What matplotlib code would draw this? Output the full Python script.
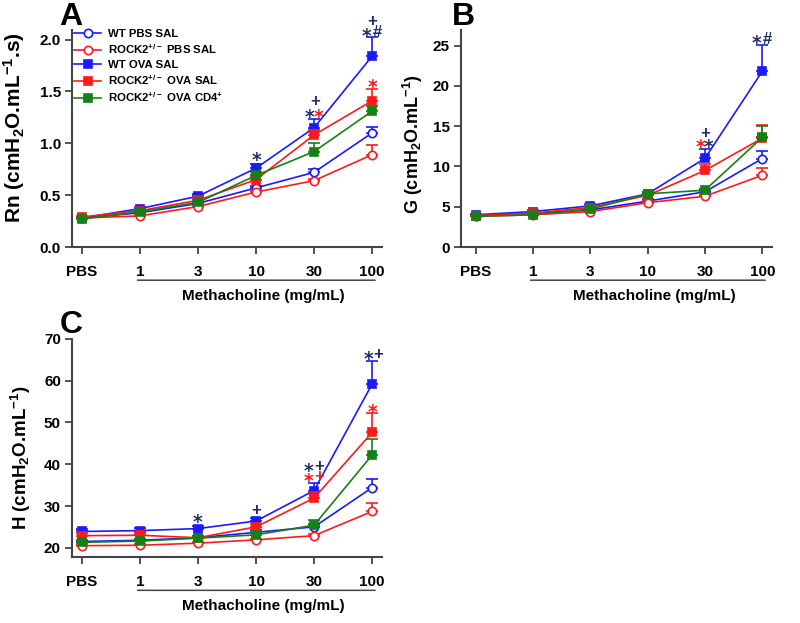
import numpy as np
import matplotlib
matplotlib.use("Agg")
import matplotlib.pyplot as plt
from matplotlib.lines import Line2D

plt.rcParams['font.family'] = ['Liberation Sans', 'DejaVu Sans']
plt.rcParams['font.weight'] = 'bold'
plt.rcParams['mathtext.fontset'] = 'custom'
plt.rcParams['mathtext.rm'] = 'Liberation Sans:bold'
plt.rcParams['mathtext.bf'] = 'Liberation Sans:bold'
plt.rcParams['mathtext.default'] = 'bf'

doses = ['PBS', '1', '3', '10', '30', '100']
groups = ['WT PBS SAL', 'ROCK2$^{+/-}$ PBS SAL', 'WT OVA SAL',
          'ROCK2$^{+/-}$ OVA SAL', 'ROCK2$^{+/-}$ OVA CD4$^{+}$']

# panel A - Rn
rn_wt_pbs = [0.28, 0.33, 0.42, 0.57, 0.72, 1.10]
rn_rock_pbs = [0.28, 0.30, 0.39, 0.53, 0.64, 0.89]
rn_wt_ova = [0.28, 0.37, 0.49, 0.76, 1.15, 1.84]
rn_rock_ova = [0.29, 0.35, 0.45, 0.65, 1.08, 1.41]
rn_rock_cd4 = [0.27, 0.34, 0.43, 0.69, 0.92, 1.31]
rn_err = [[0.01, 0.01, 0.01, 0.02, 0.03, 0.06],
          [0.01, 0.01, 0.01, 0.02, 0.02, 0.09],
          [0.01, 0.02, 0.02, 0.04, 0.08, 0.18],
          [0.01, 0.01, 0.02, 0.03, 0.05, 0.11],
          [0.01, 0.01, 0.02, 0.03, 0.08, 0.05]]

# panel B - G
g_wt_pbs = [3.9, 4.2, 4.6, 5.7, 6.85, 10.97]
g_rock_pbs = [3.8, 4.0, 4.4, 5.5, 6.3, 8.9]
g_wt_ova = [4.0, 4.4, 5.1, 6.6, 11.0, 21.8]
g_rock_ova = [3.9, 4.2, 4.9, 6.4, 9.5, 13.5]
g_rock_cd4 = [3.8, 4.0, 4.7, 6.6, 7.05, 13.6]
g_err = [[0.1, 0.1, 0.1, 0.2, 0.3, 0.9],
         [0.1, 0.1, 0.1, 0.2, 0.2, 0.9],
         [0.1, 0.2, 0.2, 0.2, 1.1, 3.3],
         [0.1, 0.1, 0.2, 0.2, 0.8, 1.6],
         [0.1, 0.1, 0.2, 0.2, 0.2, 1.4]]

# panel C - H
h_wt_pbs = [21.5, 21.8, 22.4, 23.7, 25.0, 34.4]
h_rock_pbs = [20.5, 20.6, 21.1, 21.9, 22.9, 28.7]
h_wt_ova = [23.9, 24.1, 24.6, 26.4, 33.7, 59.2]
h_rock_ova = [22.9, 23.0, 22.4, 25.0, 31.9, 47.6]
h_rock_cd4 = [21.3, 21.6, 22.3, 23.1, 25.4, 42.2]
h_err = [[0.4, 0.4, 0.4, 0.5, 0.7, 2.1],
         [0.3, 0.3, 0.3, 0.3, 0.4, 2.0],
         [0.5, 0.6, 0.6, 0.7, 1.8, 5.6],
         [0.6, 0.6, 0.4, 0.8, 1.5, 4.6],
         [0.6, 0.6, 0.5, 0.6, 1.3, 3.9]]

NAVY = '#1f2f66'
RED = '#ff1a1a'
# significance marks: (dose index, y, text, colour)
rn_marks = [(3, 0.87, '*', NAVY), (3.92, 1.29, '*', NAVY), (4.08, 1.29, '*', RED),
            (4.02, 1.40, '+', NAVY), (4.91, 2.07, '*', NAVY), (5.09, 2.07, '#', NAVY),
            (5.0, 2.17, '+', NAVY), (5, 1.58, '*', RED)]
g_marks = [(3.92, 12.9, '*', RED), (4.07, 12.9, '*', NAVY), (4.0, 14.1, '+', NAVY),
           (4.9, 25.8, '*', NAVY), (5.09, 25.8, '#', NAVY)]
h_marks = [(2, 27.1, '*', NAVY), (3, 28.9, '+', NAVY),
           (3.9, 39.3, '*', NAVY), (4.08, 39.5, '+', NAVY),
           (3.9, 36.9, '*', RED), (4.08, 37.1, '+', RED),
           (4.93, 66.1, '*', NAVY), (5.1, 66.3, '+', NAVY), (5, 53.4, '*', RED)]

styles = [dict(color='#1a1aff', marker='o', mfc='white', ms=6),
          dict(color='#ff1a1a', marker='o', mfc='white', ms=6),
          dict(color='#1a1aff', marker='s', mfc='#1a1aff', ms=5.5),
          dict(color='#ff1a1a', marker='s', mfc='#ff1a1a', ms=5.5),
          dict(color='#168016', marker='s', mfc='#168016', ms=5.5)]

fig = plt.figure(figsize=(8, 6.23), dpi=100)
x = np.arange(len(doses))


def panel(rect, xleft, series, errs, ylim, yticks, ylabel, lab_size, lab_xy,
          letter, letter_xy, marks, legend=False):
    ax = fig.add_axes(rect)
    for i, (vals, err, st) in enumerate(zip(series, errs, styles)):
        z = 2 + i
        ax.errorbar(x, vals, yerr=[np.zeros(len(err)), err], fmt='none',
                    ecolor=st['color'], elinewidth=1.2, capsize=4.5, capthick=1.2,
                    zorder=z)
        ax.plot(x, vals, color=st['color'], marker=st['marker'], mfc=st['mfc'],
                mec=st['color'], mew=1.2, ms=st['ms'], lw=1.2, zorder=z + 0.5)
    ax.set_xlim(xleft, 5.17)
    ax.set_ylim(*ylim)
    ax.set_yticks(yticks)
    ax.set_xticks(x)
    ax.set_xticklabels(doses)
    ax.spines['top'].set_visible(False)
    ax.spines['right'].set_visible(False)
    for s in ['left', 'bottom']:
        ax.spines[s].set_color('#444444')
        ax.spines[s].set_linewidth(1.5)
    ax.tick_params(direction='out', length=5, width=1.3, color='#444444',
                   labelsize=11, pad=3)
    ax.tick_params(axis='x', pad=8)
    for lab in ax.get_xticklabels() + ax.get_yticklabels():
        lab.set_fontweight('bold')
    ax.set_ylabel(ylabel, fontsize=lab_size, fontweight='bold', va='center')
    ax.yaxis.set_label_coords(*lab_xy)
    for xi, yi, t, c in marks:
        if t == '*':
            ax.annotate(t, (xi, yi), xytext=(0, -3), textcoords='offset points',
                        color=c, fontsize=13.5, fontweight='bold', ha='center',
                        va='center', family=['DejaVu Sans'], zorder=10)
        else:
            ax.text(xi, yi, t, color=c, fontsize=12, fontweight='bold',
                    ha='center', va='center', zorder=10)
    # methacholine bracket
    ax.annotate('', xy=(0.91, -0.153), xytext=(5.1, -0.153),
                xycoords=('data', 'axes fraction'),
                arrowprops=dict(arrowstyle='-', color='#444444', lw=1.1))
    ax.text(3.12, -0.225, 'Methacholine (mg/mL)', transform=ax.get_xaxis_transform(),
            ha='center', va='center', fontsize=11, fontweight='bold')
    ax.text(letter_xy[0], letter_xy[1], letter, transform=ax.transAxes,
            fontsize=23, fontweight='bold', ha='center', va='baseline')
    if legend:
        handles = [Line2D([], [], color=st['color'], marker=st['marker'],
                          mfc=st['mfc'], mec=st['color'], mew=1.2, ms=st['ms'], lw=1.2)
                   for st in styles]
        ax.legend(handles, groups, loc='upper left', bbox_to_anchor=(0.006, 1.006),
                  frameon=False, prop=dict(size=8.2, weight='bold'),
                  handlelength=2.4, handletextpad=0.6, labelspacing=0.3,
                  borderpad=0, borderaxespad=0)
    return ax


panel([0.09, 0.6035, 0.3875, 0.348], -0.17,
      [rn_wt_pbs, rn_rock_pbs, rn_wt_ova, rn_rock_ova, rn_rock_cd4], rn_err,
      (0, 2.09), [0.0, 0.5, 1.0, 1.5, 2.0], 'Rn (cmH$_2$O.mL$^{-1}$.s)', 15,
      (-0.187, 0.55), 'A', (-0.003, 1.023), rn_marks, legend=True)
panel([0.576, 0.6035, 0.389, 0.348], -0.26,
      [g_wt_pbs, g_rock_pbs, g_wt_ova, g_rock_ova, g_rock_cd4], g_err,
      (0, 26.9), [0, 5, 10, 15, 20, 25], 'G (cmH$_2$O.mL$^{-1}$)', 13,
      (-0.154, 0.475), 'B', (0.01, 1.023), g_marks)
panel([0.09, 0.106, 0.3875, 0.35], -0.17,
      [h_wt_pbs, h_rock_pbs, h_wt_ova, h_rock_ova, h_rock_cd4], h_err,
      (17.8, 70), [20, 30, 40, 50, 60, 70], 'H (cmH$_2$O.mL$^{-1}$)', 13.5,
      (-0.165, 0.455), 'C', (-0.003, 1.027), h_marks)

fig.savefig('out.png', dpi=100)
